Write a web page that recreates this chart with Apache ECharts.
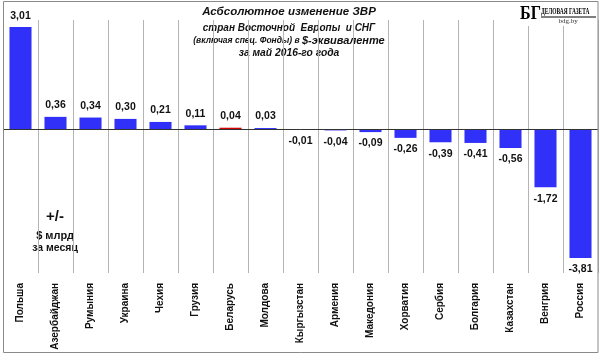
<!DOCTYPE html>
<html><head><meta charset="utf-8">
<script src="https://cdn.jsdelivr.net/npm/echarts@6/dist/echarts.min.js"></script>
<style>html,body{margin:0;padding:0;background:#fff}#c{width:600px;height:355px}</style>
</head><body><div id="c"></div>
<script>
const categories = ['Польша','Азербайджан','Румыния','Украина','Чехия','Грузия','Беларусь','Молдова','Кыргызстан','Армения','Македония','Хорватия','Сербия','Болгария','Казахстан','Венгрия','Россия'];
const values = [3.01,0.36,0.34,0.30,0.21,0.11,0.04,0.03,-0.01,-0.04,-0.09,-0.26,-0.39,-0.41,-0.56,-1.72,-3.81];
const highlighted = 'Беларусь';
const titleLines = ['Асбсолютное изменение ЗВР','стран Восточной  Европы  и СНГ','(включая спец. Фонды) в ','$-эквиваленте','за май 2016-го года'];
const unitLines = ['+/-','$ млрд','за месяц'];

const F = '"Liberation Sans", Arial, sans-serif';
const chart = echarts.init(document.getElementById('c'), null, {renderer:'canvas'});
chart.setOption({
  animation:false,
  backgroundColor:'#fff',
  grid:{left:3,right:2,top:20,bottom:82,containLabel:false},
  xAxis:{type:'category',data:categories,boundaryGap:true,
    axisLine:{show:false},axisTick:{show:false},
    splitLine:{show:true,lineStyle:{color:'#b4b4b4',width:1}},
    axisLabel:{rotate:90,interval:0,margin:10,fontFamily:F,fontWeight:'bold',fontSize:10,color:'#111'}},
  yAxis:{type:'value',min:-4.25,max:3.22,show:false,splitLine:{show:false}},
  series:[{type:'bar',barCategoryGap:'37%',
    data:values.map(v=>({value:v,label:{position:v<0?'bottom':'top'}})),
    itemStyle:{color:p=>p.name===highlighted?'#d40000':'#3030f8'},
    label:{show:true,fontFamily:F,fontWeight:'bold',fontSize:10.5,color:'#111',distance:6,
      formatter:p=>p.value.toFixed(2).replace('.',',')},
    markLine:{silent:true,symbol:'none',label:{show:false},
      lineStyle:{color:'#333',width:1,type:'solid'},data:[{yAxis:0}]}
  }],
  graphic:[
    {type:'rect',shape:{x:3.5,y:1.5,width:594.5,height:351},style:{fill:'none',stroke:'#8a8a8a',lineWidth:1},z:100},
    {type:'text',x:289,y:12,style:{text:titleLines[0],font:'italic bold 11.5px '+F,fill:'#111',textAlign:'center',textVerticalAlign:'middle'}},
    {type:'text',x:289,y:28,style:{text:titleLines[1],font:'italic bold 10px '+F,fill:'#111',textAlign:'center',textVerticalAlign:'middle'}},
    {type:'text',x:289,y:41,style:{text:'{a|'+titleLines[2]+'}{b|'+titleLines[3]+'}',textAlign:'center',textVerticalAlign:'middle',
      rich:{a:{font:'italic bold 8.5px '+F,fill:'#111'},b:{font:'italic bold 11px '+F,fill:'#111'}}}},
    {type:'text',x:289,y:53,style:{text:titleLines[4],font:'italic bold 10.3px '+F,fill:'#111',textAlign:'center',textVerticalAlign:'middle'}},
    {type:'text',x:55,y:217,style:{text:unitLines[0],font:'bold 15px '+F,fill:'#111',textAlign:'center',textVerticalAlign:'middle'}},
    {type:'text',x:55,y:236,style:{text:unitLines[1],font:'bold 11px '+F,fill:'#111',textAlign:'center',textVerticalAlign:'middle'}},
    {type:'text',x:55,y:248,style:{text:unitLines[2],font:'bold 10.5px '+F,fill:'#111',textAlign:'center',textVerticalAlign:'middle'}},
    {type:'rect',shape:{x:518,y:3,width:79,height:23},style:{fill:'#fff'},z:50},
    {type:'text',x:520,y:14,scaleX:0.85,style:{text:'БГ',font:'bold 19px "Liberation Serif", serif',fill:'#000',textVerticalAlign:'middle'},z:51},
    {type:'text',x:541,y:12,scaleX:0.68,style:{text:'ДЕЛОВАЯ ГАЗЕТА',font:'bold 8px "Liberation Serif", serif',fill:'#000',textVerticalAlign:'middle'},z:51},
    {type:'line',shape:{x1:541,y1:17,x2:596,y2:17},style:{stroke:'#000',lineWidth:1},z:51},
    {type:'text',x:568,y:21,style:{text:'bdg.by',font:'7px "Liberation Serif", serif',fill:'#333',textAlign:'center',textVerticalAlign:'middle'},z:51}
  ]
});
</script></body></html>
